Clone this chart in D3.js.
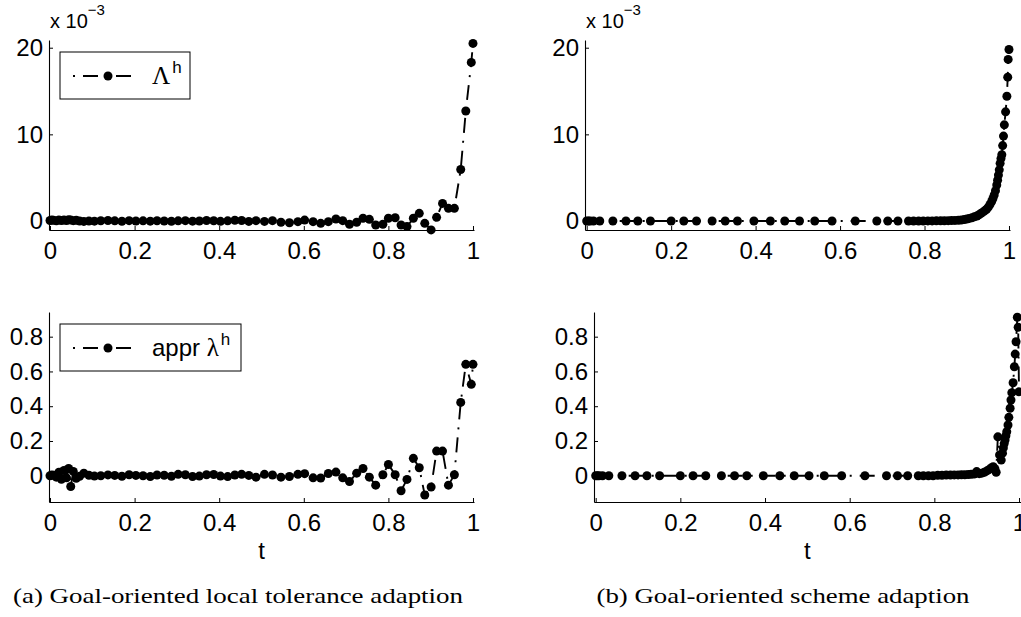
<!DOCTYPE html>
<meta charset="utf-8">
<style>
body { margin: 0; background: #fff; }
svg { display: block; }
</style>
<body>
<script src="https://d3js.org/d3.v7.min.js"></script>
<script>

// tick values
var xTicks = [0, 0.2, 0.4, 0.6, 0.8, 1];
var yTicksTop = [0, 10, 20];
var yTicksBottom = [0, 0.2, 0.4, 0.6, 0.8];

// (a) local tolerance adaption: time grid shared by both left panels
var tLocal = [0, 0.004, 0.008, 0.015, 0.021, 0.027, 0.033, 0.039, 0.044, 0.049, 0.055, 0.062, 0.07,
  0.08, 0.092, 0.105, 0.12, 0.137, 0.153, 0.17, 0.187, 0.203, 0.22, 0.237, 0.253, 0.27, 0.287,
  0.303, 0.32, 0.337, 0.353, 0.37, 0.387, 0.403, 0.42, 0.437, 0.453, 0.47, 0.487,
  0.507, 0.526, 0.546, 0.566, 0.586, 0.602, 0.622, 0.64, 0.658, 0.676, 0.692, 0.708, 0.725,
  0.74, 0.755, 0.77, 0.787, 0.8, 0.816, 0.83, 0.844, 0.859, 0.873, 0.886, 0.901, 0.914,
  0.928, 0.942, 0.956, 0.971, 0.983, 0.996, 1.0];

// Lambda^h, units of 1e-3
var LambdaLocal = [0.05, 0.1, 0.08, 0.02, 0.1, 0.05, 0.12, 0.06, 0.15, 0.1, 0.04, 0.08, 0.0,
  -0.05, 0.0, -0.02, 0.03, 0.05, 0.02, -0.03, 0.04, 0.0, 0.02, -0.02, 0.03, 0.0, -0.03,
  0.02, 0.04, -0.02, 0.0, 0.06, 0.03, -0.04, 0.02, 0.08, 0.05, -0.05, 0.04,
  -0.05, 0.04, -0.15, -0.2, -0.08, 0.1, -0.08, -0.27, -0.08, 0.23, 0.04, -0.38, -0.15,
  0.31, 0.19, -0.46, -0.38, 0.31, 0.38, -0.46, -0.65, 0.31, 0.88, -0.27, -1.03, 0.42,
  2.03, 1.46, 1.46, 5.94, 12.7, 18.3, 20.5];

// appr lambda^h
var lambdaLocal = [0, 0.005, 0.003, -0.008, 0.02, -0.02, 0.03, -0.012, 0.042, -0.062, 0.025, -0.015, -0.003,
  0.015, 0.003, -0.002, 0.0, 0.005, 0.002, -0.003, 0.006, 0.002, 0.0, -0.004, 0.004, 0.003, -0.003,
  0.008, 0.006, -0.004, -0.002, 0.006, 0.007, -0.002, -0.005, 0.004, 0.008, 0.002, -0.008,
  0.008, 0.004, -0.008, -0.004, 0.008, 0.012, -0.012, -0.013, 0.013, 0.021, -0.012, -0.033, 0.015,
  0.042, -0.008, -0.054, 0.006, 0.065, 0.006, -0.086, -0.021, 0.1, 0.046, -0.111, -0.065, 0.142,
  0.142, -0.054, 0.006, 0.422, 0.641, 0.526, 0.641];

// (b) scheme adaption
var tSchemeTop = [0, 0.004, 0.008, 0.016, 0.031, 0.062, 0.093, 0.121, 0.151, 0.2, 0.23, 0.26,
  0.297, 0.328, 0.357, 0.396, 0.435, 0.469, 0.504, 0.54, 0.581, 0.636, 0.687, 0.713, 0.737,
  0.762, 0.774, 0.786, 0.797, 0.808, 0.818, 0.828, 0.838, 0.847, 0.856, 0.864, 0.872, 0.88,
  0.887, 0.894, 0.9, 0.906, 0.912, 0.918, 0.924, 0.929, 0.934, 0.939, 0.943, 0.947, 0.951,
  0.955, 0.959, 0.962, 0.965, 0.968, 0.971, 0.973, 0.975, 0.977, 0.979, 0.981, 0.983, 0.985,
  0.987, 0.989, 0.992, 0.995, 0.997, 0.998, 1.0];

var LambdaScheme = [0, 0, 0, 0, 0, 0, 0, 0, 0, 0, 0, 0,
  0, 0, 0, 0, 0, 0, 0, 0, 0, 0, 0, 0, 0,
  0, 0, 0, 0, 0.01, 0.01, 0.02, 0.02, 0.03, 0.04, 0.05, 0.07, 0.09,
  0.12, 0.16, 0.23, 0.3, 0.38, 0.48, 0.58, 0.72, 0.89, 1.05, 1.2, 1.35, 1.6,
  1.9, 2.25, 2.6, 3.0, 3.5, 4.15, 4.7, 5.3, 5.9, 6.65, 7.2, 7.65, 8.7,
  9.8, 11.1, 12.6, 14.4, 16.6, 18.65, 19.8];

var tSchemeBottom = [0, 0.004, 0.008, 0.016, 0.031, 0.062, 0.093, 0.121, 0.151, 0.2, 0.23, 0.26,
  0.297, 0.328, 0.357, 0.396, 0.435, 0.469, 0.504, 0.54, 0.581, 0.636, 0.687, 0.713, 0.737,
  0.762, 0.774, 0.786, 0.797, 0.808, 0.818, 0.828, 0.838, 0.847, 0.856, 0.864, 0.872, 0.88,
  0.887, 0.894, 0.9, 0.906, 0.912, 0.918, 0.924, 0.929, 0.934, 0.939, 0.943, 0.946, 0.95,
  0.954, 0.958, 0.961, 0.963, 0.965, 0.967, 0.969, 0.971, 0.974, 0.976, 0.979, 0.981, 0.983,
  0.986, 0.989, 0.991, 0.993, 0.996, 0.998, 1.0];

var lambdaScheme = [0, 0, 0, 0, 0, 0, 0, 0, 0, 0, 0, 0,
  0, 0, 0, 0, 0, 0, 0, 0, 0, 0, 0, 0, 0,
  0, 0, 0, 0, 0.003, 0.003, 0.004, 0.004, 0.005, 0.005, 0.006, 0.006, 0.007,
  0.008, 0.01, 0.024, 0.012, 0.015, 0.02, 0.028, 0.035, 0.045, 0.052, 0.04, 0.02, 0.224,
  0.12, 0.09, 0.13, 0.16, 0.185, 0.205, 0.23, 0.253, 0.292, 0.336, 0.388, 0.436, 0.478,
  0.535, 0.627, 0.7, 0.771, 0.912, 0.854, 0.483];

var W = 1021, H = 617;
var FONT = "'Liberation Sans', Arial, sans-serif";
var DASH = "15,8,2,8";

var svg = d3.select("body").append("svg")
    .attr("width", W)
    .attr("height", H);

svg.append("rect").attr("width", W).attr("height", H).attr("fill", "#fff");

// panel layout (pixels)
var panels = [
  {left: 49, right: 474, xd: [-0.0024, 1.0024], top: 40, bottom: 230, yd: [-1.04, 20.89],
   yTicks: yTicksTop, t: tLocal, v: LambdaLocal, mult: true, legend: "Lambda"},
  {left: 585, right: 1010, xd: [-0.004, 1.0024], top: 40, bottom: 230, yd: [-1.04, 20.89],
   yTicks: yTicksTop, t: tSchemeTop, v: LambdaScheme, mult: true},
  {left: 49, right: 474, xd: [-0.0024, 1.0024], top: 312, bottom: 502, yd: [-0.151, 0.942],
   yTicks: yTicksBottom, t: tLocal, v: lambdaLocal, xlabel: true, legend: "lambda"},
  {left: 594, right: 1020.5, xd: [-0.004, 1.0035], top: 312, bottom: 502, yd: [-0.151, 0.942],
   yTicks: yTicksBottom, t: tSchemeBottom, v: lambdaScheme, xlabel: true}
];

panels.forEach(function(p) {
  var x = d3.scaleLinear().domain(p.xd).range([p.left, p.right]);
  var y = d3.scaleLinear().domain(p.yd).range([p.bottom, p.top]);

  // x axis, ticks pointing inward
  var gx = svg.append("g")
      .attr("transform", "translate(0," + p.bottom + ")")
      .call(d3.axisBottom(x).tickValues(xTicks).tickFormat(d3.format(""))
        .tickSize(-4).tickSizeOuter(0).tickPadding(12));
  gx.attr("font-family", FONT).attr("font-size", 24);

  // y axis
  var gy = svg.append("g")
      .attr("transform", "translate(" + p.left + ",0)")
      .call(d3.axisLeft(y).tickValues(p.yTicks).tickFormat(d3.format(""))
        .tickSize(-4).tickSizeOuter(0).tickPadding(6));
  gy.attr("font-family", FONT).attr("font-size", 24);

  [gx, gy].forEach(function(g) {
    g.select(".domain").attr("stroke", "#000").attr("stroke-width", 1.1);
    g.selectAll(".tick line").attr("stroke", "#000");
    g.selectAll(".tick text").attr("fill", "#000");
  });

  var pts = p.t.map(function(d, i) { return [d, p.v[i]]; });

  var line = d3.line()
      .x(function(d) { return x(d[0]); })
      .y(function(d) { return y(d[1]); });

  svg.append("path")
      .datum(pts)
      .attr("d", line)
      .attr("fill", "none")
      .attr("stroke", "#000")
      .attr("stroke-width", 1.9)
      .attr("stroke-dasharray", DASH);

  svg.append("g").selectAll("circle")
      .data(pts)
    .enter().append("circle")
      .attr("cx", function(d) { return x(d[0]); })
      .attr("cy", function(d) { return y(d[1]); })
      .attr("r", 4.5)
      .attr("fill", "#000");

  // "x 10^-3" multiplier
  if (p.mult) {
    var m = svg.append("text")
        .attr("x", p.left + 1)
        .attr("y", 28)
        .attr("font-family", FONT)
        .attr("font-size", 20);
    m.append("tspan").text("x 10");
    m.append("tspan").attr("font-size", 15).attr("dy", -13).text("\u22123");
  }

  if (p.xlabel) {
    svg.append("text")
        .attr("x", x(0.5))
        .attr("y", 559)
        .attr("text-anchor", "middle")
        .attr("font-family", FONT)
        .attr("font-size", 24)
        .text("t");
  }

  // legend
  if (p.legend) {
    var ly = p.top + 36;
    var lw = p.legend === "Lambda" ? 130 : 181;
    svg.append("rect")
        .attr("x", 60).attr("y", p.top + 12)
        .attr("width", lw).attr("height", 47)
        .attr("fill", "#fff").attr("stroke", "#000").attr("stroke-width", 1);
    svg.append("line")
        .attr("x1", 73).attr("x2", 135)
        .attr("y1", ly).attr("y2", ly)
        .attr("stroke", "#000").attr("stroke-width", 1.9)
        .attr("stroke-dasharray", DASH).attr("stroke-dashoffset", 23);
    svg.append("circle").attr("cx", 108).attr("cy", ly).attr("r", 4.5).attr("fill", "#000");

    var lt = svg.append("text")
        .attr("x", 152).attr("y", ly + 8)
        .attr("font-family", FONT).attr("font-size", 24);
    if (p.legend === "Lambda") {
      lt.append("tspan").attr("font-family", "'Liberation Serif', serif").attr("font-size", 25).text("\u039B");
    } else {
      lt.append("tspan").text("appr ");
      lt.append("tspan").attr("font-family", "'Liberation Serif', serif").attr("font-size", 25).text("\u03BB");
    }
    lt.append("tspan").attr("font-size", 17).attr("dy", -11).attr("dx", 2).text("h");
  }
});

// captions
var captions = ["(a) Goal-oriented local tolerance adaption", "(b) Goal-oriented scheme adaption"];
var capX = [238, 783], capW = [450, 373];
captions.forEach(function(c, i) {
  svg.append("text")
      .attr("x", capX[i] - capW[i] / 2)
      .attr("y", 603)
      .attr("font-family", "'Liberation Serif', 'Times New Roman', serif")
      .attr("font-size", 21)
      .attr("textLength", capW[i])
      .attr("lengthAdjust", "spacingAndGlyphs")
      .text(c);
});

</script>
</body>
